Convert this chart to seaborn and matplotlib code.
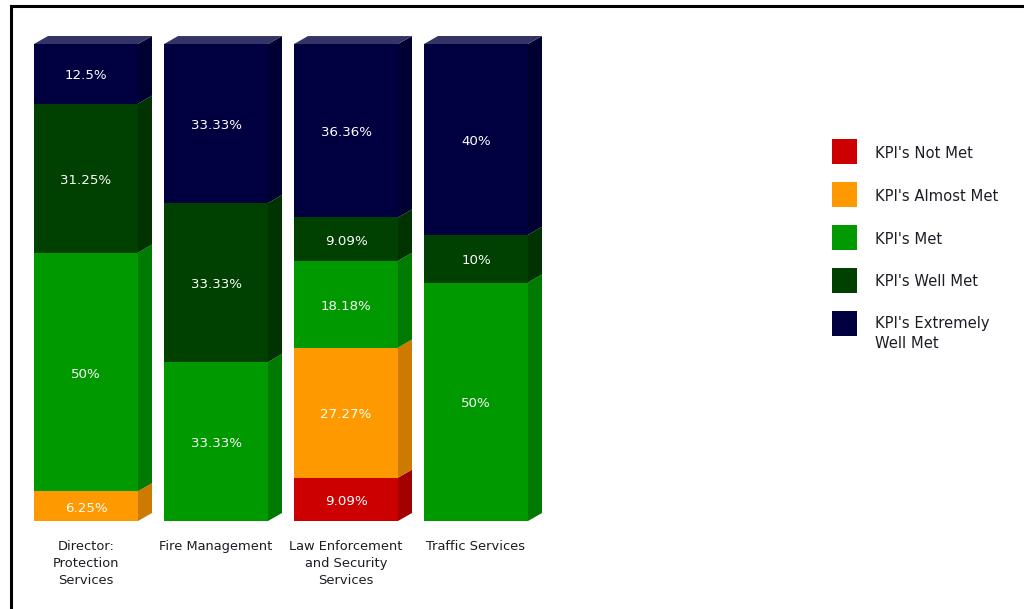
import numpy as np
import pandas as pd
import matplotlib
matplotlib.use("Agg")
import matplotlib.pyplot as plt
from matplotlib.patches import Polygon, Rectangle
from matplotlib.lines import Line2D
from matplotlib.colors import to_rgb
import seaborn as sns

# ---- data -------------------------------------------------------------
categories = [
    "Director:\nProtection\nServices",
    "Fire Management",
    "Law Enforcement\nand Security\nServices",
    "Traffic Services",
]
series_names = [
    "KPI's Not Met",
    "KPI's Almost Met",
    "KPI's Met",
    "KPI's Well Met",
    "KPI's Extremely\nWell Met",
]
not_met = [0, 0, 9.09, 0]
almost_met = [6.25, 0, 27.27, 0]
met = [50, 33.33, 18.18, 50]
well_met = [31.25, 33.33, 9.09, 10]
extremely_well_met = [12.5, 33.33, 36.36, 40]

series_colors = ["#CC0000", "#FF9900", "#009900", "#004000", "#000040"]
text_color = "#1c1c24"

# ---- figure ----------------------------------------------------------
sns.set_theme(style="white")
plt.rcParams["font.family"] = ["DejaVu Sans"]

W, H, DPI = 1024, 609, 100
fig = plt.figure(figsize=(W / DPI, H / DPI), dpi=DPI)
fig.patch.set_facecolor("white")

# axes: category spacing 130 px, value 0..100 spans 477 px
ax = fig.add_axes([21 / W, (H - 521) / H, 520 / W, 477 / H])
ax.set_facecolor("none")

values = np.array([not_met, almost_met, met, well_met, extremely_well_met])
cum = np.cumsum(values, axis=0)
bottoms = cum - values

df = pd.DataFrame({"category": categories})
bar_width = 0.8

# draw cumulative layers from the top down so lower segments overlay
for k in range(len(series_names) - 1, -1, -1):
    df["value"] = cum[k]
    sns.barplot(data=df, x="category", y="value", color=series_colors[k],
                saturation=1, width=bar_width, ax=ax, linewidth=0,
                order=categories)

ax.set_xlim(-0.5, 3.5)
ax.set_ylim(0, 100)

# depth of the 3D extrusion, in pixels -> data units
depth_px = (14, 8)
inv = ax.transData.inverted()
p0 = inv.transform(ax.transData.transform((0, 0)))
p1 = inv.transform(ax.transData.transform((0, 0)) + np.array(depth_px))
ddx, ddy = p1 - p0


def shade(c, f):
    r, g, b = to_rgb(c)
    return (r * f, g * f, b * f)


def tint(c, f):
    r, g, b = to_rgb(c)
    return (r + (1 - r) * f, g + (1 - g) * f, b + (1 - b) * f)


for i in range(len(categories)):
    right = i + bar_width / 2
    left = i - bar_width / 2
    top_idx = None
    for k in range(len(series_names)):
        if values[k, i] <= 0:
            continue
        b, t = bottoms[k, i], cum[k, i]
        side = Polygon([(right, b), (right + ddx, b + ddy),
                        (right + ddx, t + ddy), (right, t)],
                       closed=True, facecolor=shade(series_colors[k], 0.8),
                       edgecolor="none", clip_on=False, zorder=1)
        ax.add_patch(side)
        top_idx = k
        ax.annotate(f"{values[k, i]:g}%", xy=(i, (b + t) / 2),
                    xytext=(0, -1.5), textcoords="offset points",
                    ha="center", va="center", color="white",
                    fontsize=9.6, zorder=5)
    t = cum[top_idx, i]
    topface = Polygon([(left, t), (right, t), (right + ddx, t + ddy),
                       (left + ddx, t + ddy)], closed=True,
                      facecolor=tint(series_colors[top_idx], 0.2),
                      edgecolor="none", clip_on=False, zorder=1)
    ax.add_patch(topface)

sns.despine(ax=ax, left=True, bottom=True)
ax.set_xlabel("")
ax.set_ylabel("")
ax.set_yticks([])
ax.tick_params(axis="x", length=0, pad=13.5, labelsize=9.4,
               labelcolor=text_color)
for lbl in ax.get_xticklabels():
    lbl.set_linespacing(1.4)
    lbl.set_ha("center")

# legend: square swatches with labels to their right
sq = 25          # swatch size, px
leg_x = 832      # swatch left edge, px
leg_y0 = 139     # first swatch top edge, px
leg_step = 43    # vertical step between entries, px
for k, (name, c) in enumerate(zip(series_names, series_colors)):
    top = leg_y0 + k * leg_step
    fig.add_artist(Rectangle((leg_x / W, 1 - (top + sq) / H), sq / W, sq / H,
                             transform=fig.transFigure, facecolor=c,
                             edgecolor="none"))
    cy = top + sq / 2 + 1.5
    if "\n" in name:
        fig.text(875 / W, 1 - (cy - 9) / H, name, ha="left", va="top",
                 fontsize=10.6, color=text_color, linespacing=1.45)
    else:
        fig.text(875 / W, 1 - cy / H, name, ha="left", va="center",
                 fontsize=10.6, color=text_color)

# outer frame (top and left edges)
fig.add_artist(Line2D([10.5 / W, 1], [1 - 5.5 / H, 1 - 5.5 / H],
                      transform=fig.transFigure, color="black", lw=2.2,
                      solid_capstyle="projecting"))
fig.add_artist(Line2D([10.5 / W, 10.5 / W], [0, 1 - 5.5 / H],
                      transform=fig.transFigure, color="black", lw=2.2,
                      solid_capstyle="projecting"))

fig.savefig("out.png", dpi=DPI)
